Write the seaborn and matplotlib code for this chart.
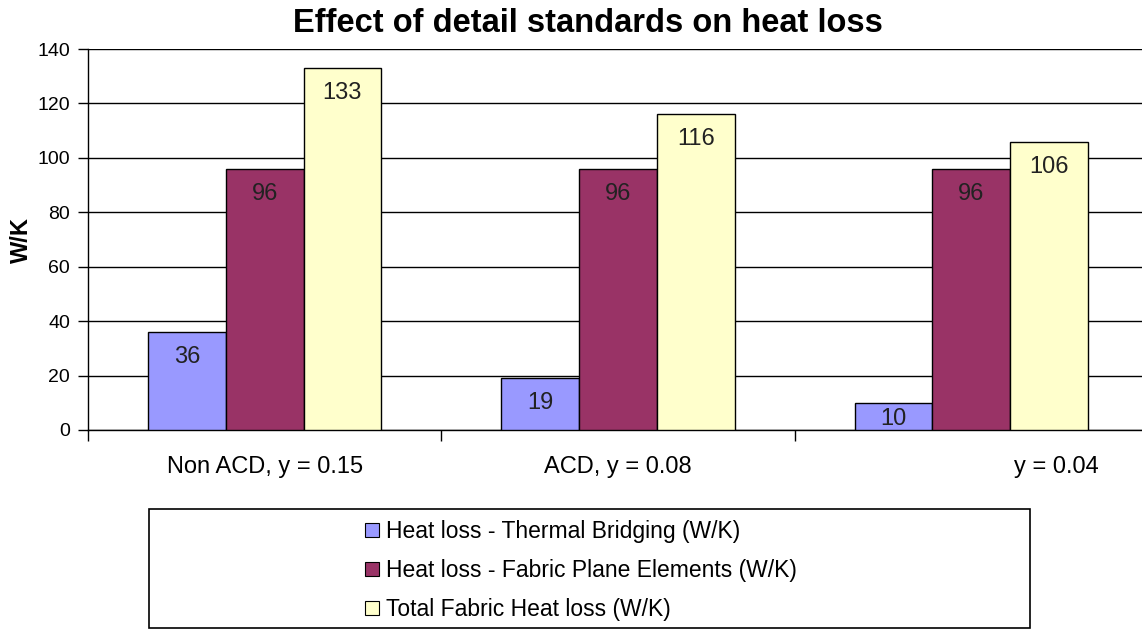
import matplotlib
matplotlib.use("Agg")
import matplotlib.pyplot as plt
import seaborn as sns
import pandas as pd
from matplotlib.patches import Rectangle, Patch
import matplotlib.transforms as mtransforms

categories = ["Non ACD, y = 0.15", "ACD, y = 0.08", "y = 0.04"]
series = ["Heat loss - Thermal Bridging (W/K)",
          "Heat loss - Fabric Plane Elements (W/K)",
          "Total Fabric Heat loss (W/K)"]
thermal_bridging = [36, 19, 10]
fabric_plane = [96, 96, 96]
total_fabric = [133, 116, 106]
yticks = [0, 20, 40, 60, 80, 100, 120, 140]
colors = ["#9999FF", "#993366", "#FFFFCC"]

rows = []
for s, vals in zip(series, [thermal_bridging, fabric_plane, total_fabric]):
    for c, v in zip(categories, vals):
        rows.append({"cat": c, "series": s, "val": v})
df = pd.DataFrame(rows)

sns.set_theme(style="white")
plt.rcParams["font.family"] = ["Liberation Sans", "DejaVu Sans"]

W, H = 1142, 630
fig = plt.figure(figsize=(W / 100, H / 100), dpi=100)
ax = fig.add_axes([88 / W, (H - 430) / H, (1148 - 88) / W, (430 - 49) / H])

sns.barplot(data=df, x="cat", y="val", hue="series", order=categories,
            hue_order=series, palette=colors, saturation=1, width=0.66,
            edgecolor="black", linewidth=1.0, ax=ax, legend=False, zorder=3)

ax.set_xlim(-0.5, 2.5)
ax.set_ylim(0, 140)
ax.set_yticks(yticks)
ax.set_yticklabels([str(t) for t in yticks], fontsize=14, color="black")
ax.yaxis.grid(True, color="black", linewidth=1.0, zorder=0)
ax.set_axisbelow(True)
for side in ["top", "right"]:
    ax.spines[side].set_visible(False)
for side in ["left", "bottom"]:
    ax.spines[side].set_color("black")
    ax.spines[side].set_linewidth(1.0)
ax.tick_params(axis="y", direction="out", length=7, width=1, color="black", pad=6, left=True)
ax.set_xticks(range(len(categories)))
ax.set_xticklabels(categories, fontsize=17, color="black")
ax.tick_params(axis="x", which="major", length=0, pad=19)
ax.set_xticks([-0.5, 0.5, 1.5, 2.5], minor=True)
ax.tick_params(axis="x", which="minor", direction="out", length=8, width=1, color="black", bottom=True)
ax.set_xlabel("")
ax.set_ylabel("W/K", fontsize=17, fontweight="bold", color="black")
ax.yaxis.set_label_coords(-(88 - 33) / (1148 - 88), (430 - 240) / (430 - 49))

# shift third category label to the right as in reference
lbl = ax.get_xticklabels()[2]
lbl.set_transform(lbl.get_transform() + mtransforms.ScaledTranslation(85 / 100, 0, fig.dpi_scale_trans))

# data labels
ppu = (430 - 49) / 140.0
for p in ax.patches:
    h = p.get_height()
    if h <= 0:
        continue
    hpx = h * ppu
    off_px = min(25, hpx / 2 + 3)
    ax.annotate(f"{h:.0f}", (p.get_x() + p.get_width() / 2, h),
                xytext=(0, -off_px * 72 / 100), textcoords="offset points",
                ha="center", va="center", fontsize=17, color="#222222", zorder=5)

fig.text(588 / W, 1 - 24 / H, "Effect of detail standards on heat loss",
         ha="center", va="center", fontsize=23.5, fontweight="bold", color="black")

# legend box
fig.patches.append(Rectangle((149 / W, (H - 628) / H), (1030 - 149) / W, (628 - 509) / H,
                             transform=fig.transFigure, facecolor="white",
                             edgecolor="black", linewidth=1.2, zorder=0))
handles = [Patch(facecolor=c, edgecolor="black", linewidth=0.8) for c in colors]
fig.legend(handles, series, loc="upper left", bbox_to_anchor=(356 / W, 1 - 511 / H),
           frameon=False, fontsize=16.5, handlelength=0.6, handleheight=0.6,
           handletextpad=0.3, labelspacing=0.7, borderaxespad=0,
           labelcolor="black")

fig.savefig("out.png", dpi=100)
